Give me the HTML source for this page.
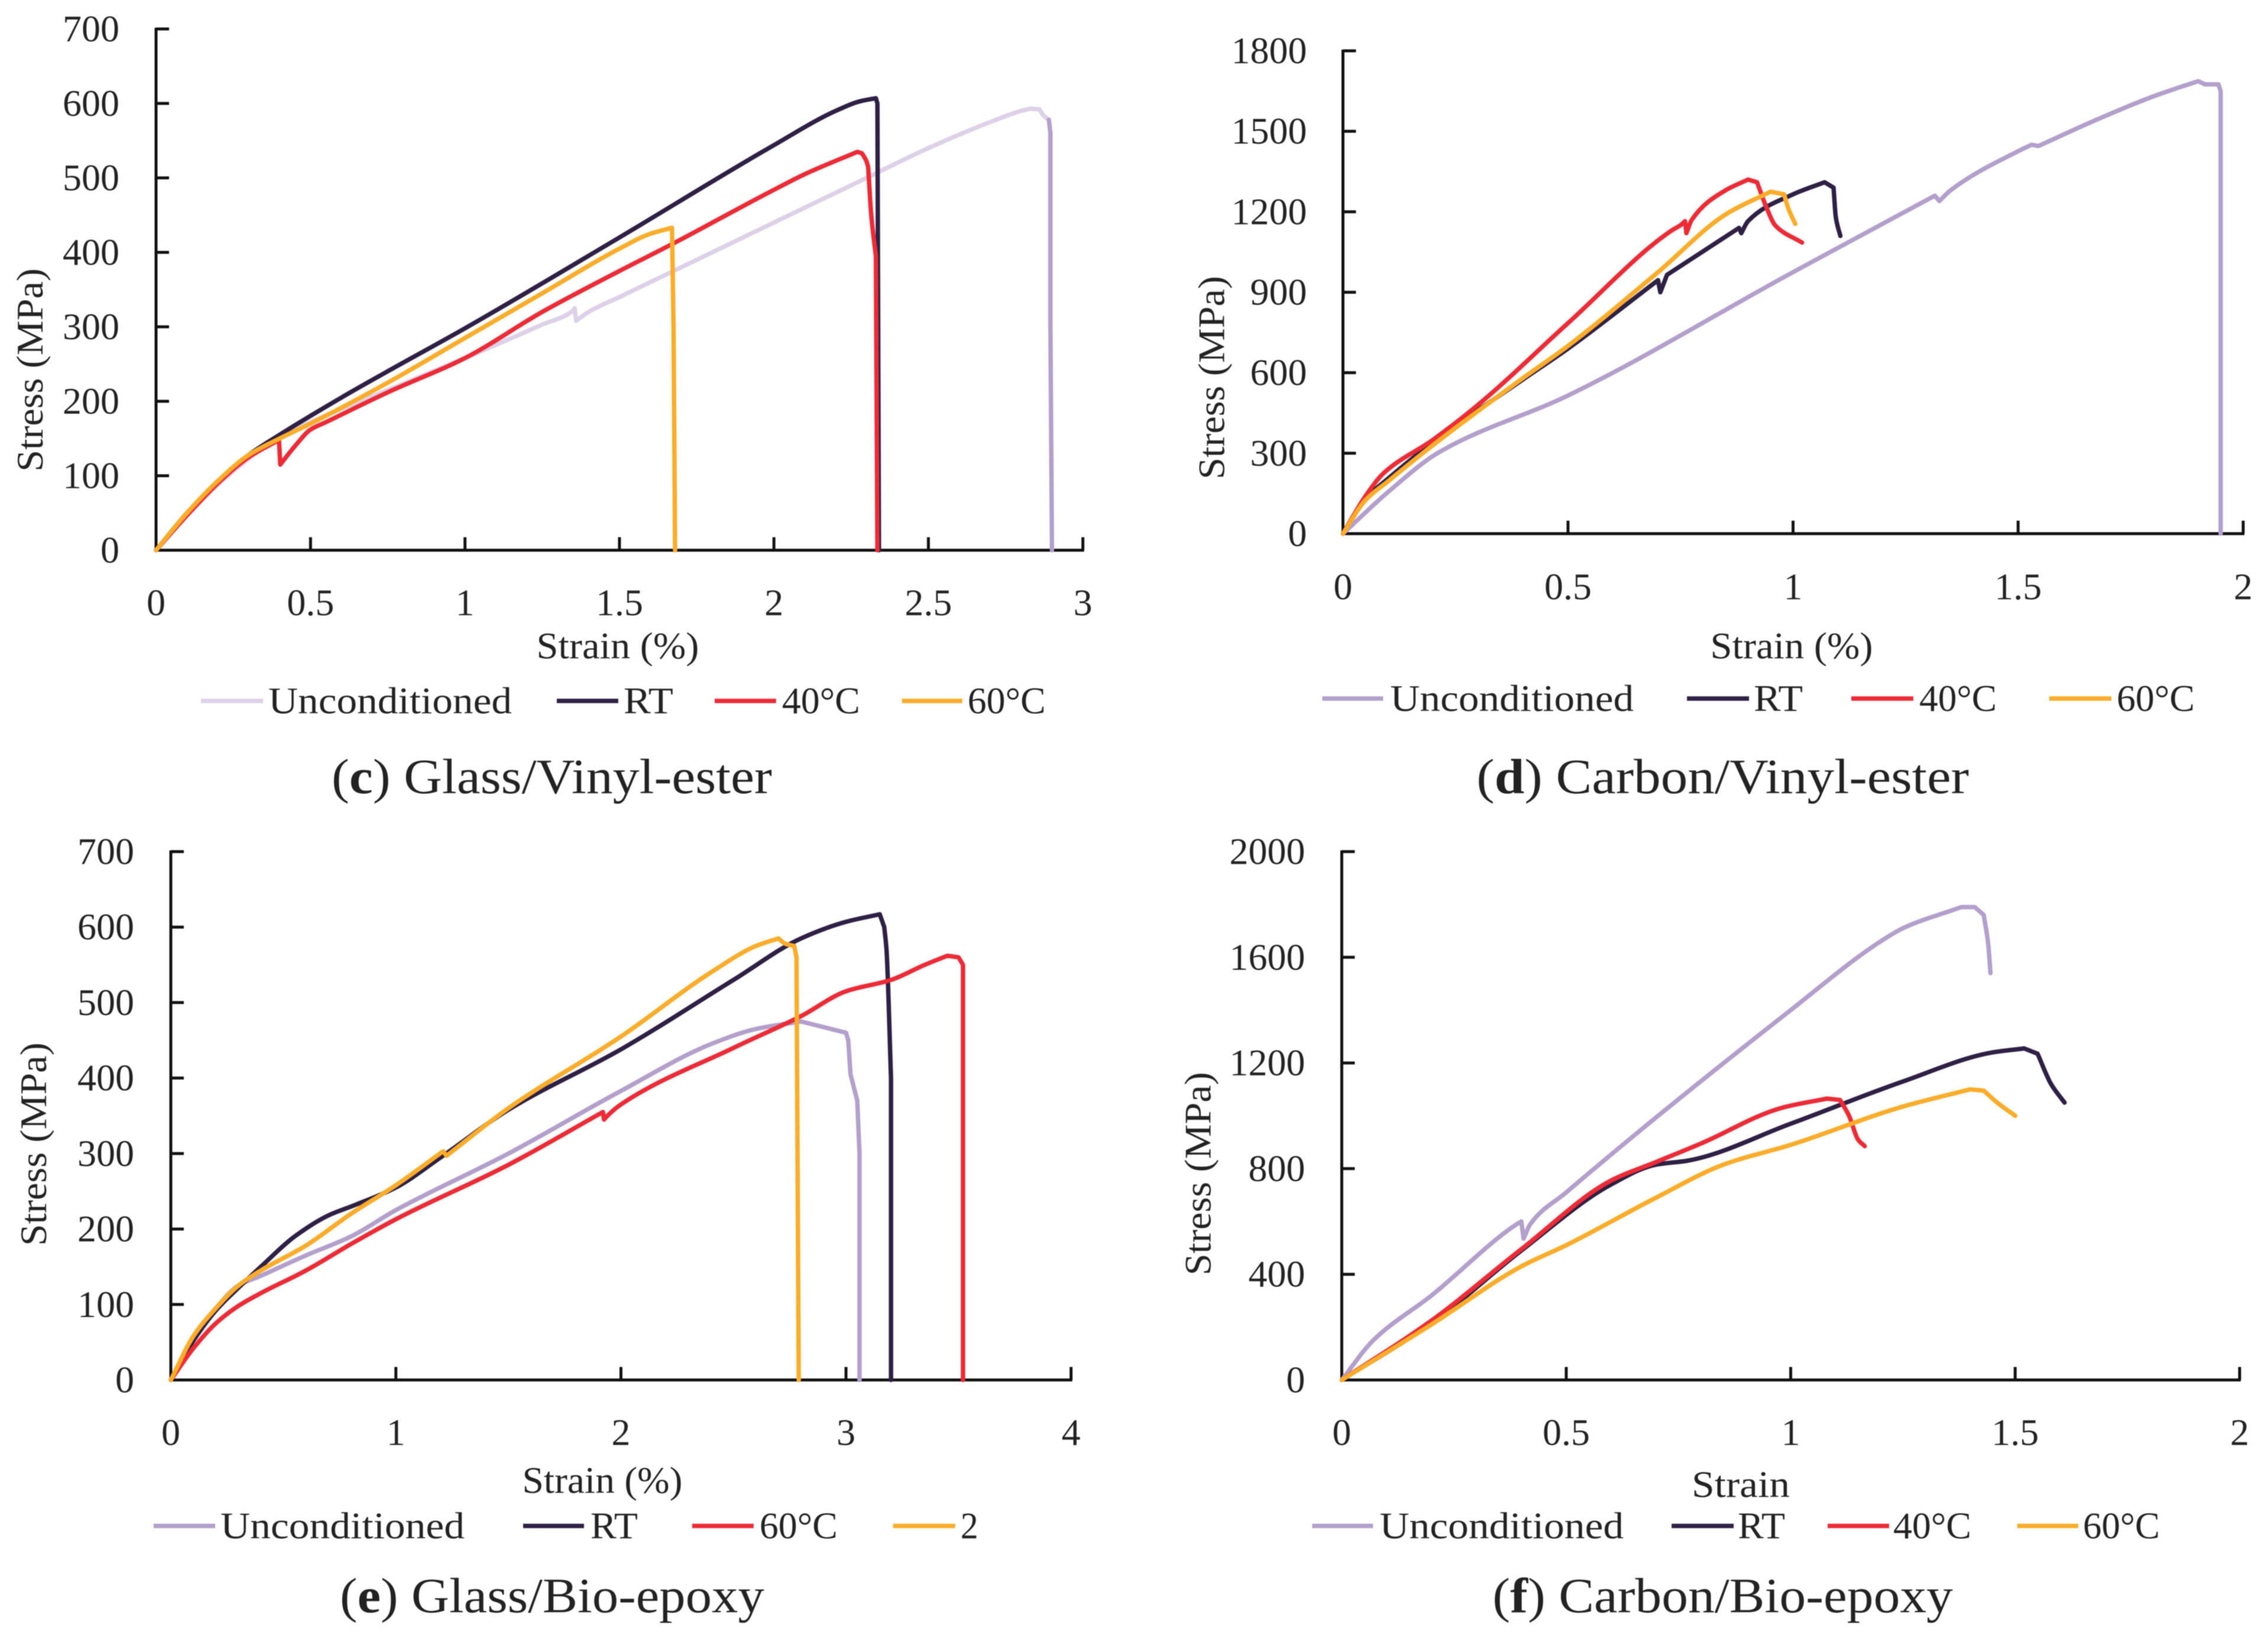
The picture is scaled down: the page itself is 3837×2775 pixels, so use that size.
<!DOCTYPE html>
<html lang="en">
<head>
<meta charset="utf-8">
<title>Stress-strain curves</title>
<style>
html,body{margin:0;padding:0;background:#fff;}
body{width:3837px;height:2775px;overflow:hidden;}
svg{display:block;filter:blur(0.9px);}
text{font-family:"Liberation Serif","DejaVu Serif",serif;fill:#222;}
</style>
</head>
<body>
<svg id="figure" xmlns="http://www.w3.org/2000/svg" width="3837" height="2775" viewBox="0 0 3837 2775">
<rect width="3837" height="2775" fill="#fff"/>
</svg>
<script>
// ---------- Panel c: Glass/Vinyl-ester ----------
const cStrainTicks = [0, 0.5, 1, 1.5, 2, 2.5, 3];
const cStressTicks = [0, 100, 200, 300, 400, 500, 600, 700];
const cLegendLabels = ["Unconditioned", "RT", "40°C", "60°C"];
const cUncondStrain = [0, 0.1, 0.2, 0.3, 0.38, 0.5, 0.75, 1, 1.25, 1.35, 1.355, 1.36, 1.4, 1.5, 1.75, 2, 2.3, 2.5, 2.7, 2.8, 2.83, 2.86, 2.87, 2.89];
const cUncondStress = [0, 46, 88, 123, 146, 172, 215, 258, 303, 322, 325, 308, 320, 340, 390, 440, 500, 540, 575, 590, 593, 592, 585, 578];
const cUncondDropStrain = [2.89, 2.895, 2.895, 2.9];
const cUncondDropStress = [578, 560, 300, 0];
const cRtStrain = [0, 0.1, 0.2, 0.3, 0.4, 0.6, 0.74, 1, 1.5, 2, 2.2, 2.28, 2.33, 2.335, 2.34];
const cRtStress = [0, 50, 92, 128, 155, 205, 238, 298, 420, 544, 590, 603, 607, 600, 0];
const c40Strain = [0, 0.1, 0.2, 0.3, 0.398, 0.402, 0.45, 0.5, 0.55, 0.75, 1, 1.25, 1.5, 1.67, 2, 2.1, 2.27, 2.285, 2.3, 2.305, 2.315, 2.33, 2.335];
const c40Stress = [0, 47, 90, 125, 148, 115, 140, 162, 172, 212, 258, 320, 375, 411, 484, 505, 535, 533, 522, 515, 450, 395, 0];
const c60Strain = [0, 0.1, 0.2, 0.3, 0.4, 0.5, 0.75, 1, 1.25, 1.5, 1.6, 1.67, 1.675, 1.68];
const c60Stress = [0, 50, 93, 128, 150, 170, 225, 285, 345, 405, 425, 433, 300, 0];

// ---------- Panel d: Carbon/Vinyl-ester ----------
const dStrainTicks = [0, 0.5, 1, 1.5, 2];
const dStressTicks = [0, 300, 600, 900, 1200, 1500, 1800];
const dLegendLabels = ["Unconditioned", "RT", "40°C", "60°C"];
const dUncondStrain = [0, 0.1, 0.212, 0.5, 1, 1.315, 1.325, 1.35, 1.5, 1.53, 1.545, 1.67, 1.8, 1.9, 1.915, 1.945, 1.95, 1.95];
const dUncondStress = [0, 155, 302, 515, 975, 1260, 1240, 1280, 1426, 1450, 1445, 1540, 1630, 1687, 1675, 1675, 1650, 0];
const dRtStrain = [0, 0.05, 0.1, 0.2, 0.4, 0.5, 0.7, 0.705, 0.72, 0.88, 0.885, 0.9, 1, 1.07, 1.09, 1.095, 1.105];
const dRtStress = [0, 130, 205, 340, 575, 690, 945, 900, 965, 1140, 1120, 1165, 1265, 1310, 1290, 1180, 1110];
const d40Strain = [0, 0.05, 0.09, 0.2, 0.3, 0.5, 0.73, 0.75, 0.76, 0.763, 0.775, 0.85, 0.9, 0.92, 0.94, 0.96, 1.02];
const d40Stress = [0, 140, 225, 350, 480, 785, 1130, 1150, 1165, 1120, 1170, 1280, 1320, 1310, 1220, 1150, 1085];
const d60Strain = [0, 0.05, 0.1, 0.2, 0.4, 0.5, 0.7, 0.85, 0.95, 0.98, 0.99, 1.005];
const d60Stress = [0, 125, 195, 330, 580, 700, 975, 1190, 1275, 1265, 1210, 1155];

// ---------- Panel e: Glass/Bio-epoxy ----------
const eStrainTicks = [0, 1, 2, 3, 4];
const eStressTicks = [0, 100, 200, 300, 400, 500, 600, 700];
const eLegendLabels = ["Unconditioned", "RT", "60°C", "2"];
const eUncondStrain = [0, 0.1, 0.2, 0.3, 0.4, 0.6, 0.8, 1, 1.5, 2, 2.4, 2.6, 2.8, 3, 3.01, 3.02, 3.05, 3.06, 3.06];
const eUncondStress = [0, 55, 95, 125, 138, 165, 190, 225, 300, 383, 445, 465, 475, 460, 450, 405, 370, 300, 0];
const eRtStrain = [0, 0.1, 0.2, 0.3, 0.4, 0.55, 0.7, 0.82, 1, 1.2, 1.5, 2, 2.5, 2.8, 3, 3.15, 3.17, 3.18, 3.2, 3.2];
const eRtStress = [0, 52, 92, 122, 150, 190, 218, 232, 255, 295, 358, 438, 530, 585, 607, 617, 600, 570, 400, 0];
const e60Strain = [0, 0.1, 0.2, 0.3, 0.4, 0.6, 0.8, 1, 1.5, 1.92, 1.925, 1.94, 2, 2.5, 2.8, 3, 3.2, 3.35, 3.45, 3.5, 3.52, 3.52];
const e60Stress = [0, 42, 75, 98, 115, 145, 180, 213, 285, 355, 345, 350, 365, 440, 482, 515, 530, 550, 562, 560, 550, 0];
const e2Strain = [0, 0.1, 0.2, 0.3, 0.4, 0.6, 0.8, 1, 1.21, 1.225, 1.5, 2, 2.4, 2.6, 2.7, 2.73, 2.77, 2.78, 2.79];
const e2Stress = [0, 58, 95, 125, 145, 178, 220, 258, 303, 297, 360, 455, 540, 575, 585, 578, 575, 560, 0];

// ---------- Panel f: Carbon/Bio-epoxy ----------
const fStrainTicks = [0, 0.5, 1, 1.5, 2];
const fStressTicks = [0, 400, 800, 1200, 1600, 2000];
const fLegendLabels = ["Unconditioned", "RT", "40°C", "60°C"];
const fUncondStrain = [0, 0.07, 0.2, 0.39, 0.4, 0.405, 0.42, 0.5, 1, 1.2, 1.25, 1.38, 1.41, 1.43, 1.44, 1.445];
const fUncondStress = [0, 150, 320, 590, 600, 535, 590, 710, 1400, 1660, 1710, 1790, 1790, 1760, 1650, 1540];
const fRtStrain = [0, 0.2, 0.4, 0.6, 0.7, 0.77, 1, 1.25, 1.45, 1.52, 1.55, 1.58, 1.61];
const fRtStress = [0, 215, 490, 740, 815, 830, 970, 1130, 1240, 1255, 1235, 1120, 1050];
const f40Strain = [0, 0.2, 0.4, 0.6, 0.7, 0.8, 0.98, 1.08, 1.11, 1.13, 1.15, 1.165];
const f40Stress = [0, 225, 495, 755, 825, 895, 1030, 1065, 1060, 1000, 910, 885];
const f60Strain = [0, 0.2, 0.4, 0.5, 0.7, 0.85, 1, 1.25, 1.4, 1.43, 1.46, 1.5];
const f60Stress = [0, 210, 430, 510, 690, 815, 890, 1035, 1100, 1095, 1050, 1000];

const COLORS = {light: "#ddd1e7", purple: "#b39fcc", dark: "#2e1f45", red: "#ed2b36", orange: "#fbac29"};
const svg = document.getElementById("figure");
const NS = "http://www.w3.org/2000/svg";

function makeEl(tag, attrs, parent) {
  const el = document.createElementNS(NS, tag);
  for (const k in attrs) el.setAttribute(k, attrs[k]);
  parent.appendChild(el);
  return el;
}

// Cubic path through pixel points: smooth at gentle bends, sharp at notches and drops.
function smoothPath(px, py) {
  const n = px.length;
  const h = [], s = [];
  for (let i = 0; i < n - 1; i++) {
    h.push(px[i + 1] - px[i]);
    s.push(h[i] > 0.01 ? (py[i + 1] - py[i]) / h[i] : null);
  }
  const mIn = new Array(n), mOut = new Array(n);
  for (let i = 0; i < n; i++) {
    const a = i > 0 ? s[i - 1] : s[i];
    const b = i < n - 1 ? s[i] : s[i - 1];
    if (a === null || b === null) { mIn[i] = a || 0; mOut[i] = b || 0; continue; }
    const ratio = Math.abs(a) > Math.abs(b) ? Math.abs(a / (b || 1e-6)) : Math.abs(b / (a || 1e-6));
    if (a * b <= 0 || ratio > 3.5 || i === 0 || i === n - 1) { mIn[i] = a; mOut[i] = b; continue; }
    const w1 = 2 * h[i] + h[i - 1], w2 = h[i] + 2 * h[i - 1];
    mIn[i] = mOut[i] = (w1 + w2) / (w1 / a + w2 / b);
  }
  let d = "M" + px[0].toFixed(1) + "," + py[0].toFixed(1);
  for (let i = 0; i < n - 1; i++) {
    if (h[i] < 3) {
      d += "L" + px[i + 1].toFixed(1) + "," + py[i + 1].toFixed(1);
    } else {
      d += "C" + (px[i] + h[i] / 3).toFixed(1) + "," + (py[i] + mOut[i] * h[i] / 3).toFixed(1) + " " +
        (px[i + 1] - h[i] / 3).toFixed(1) + "," + (py[i + 1] - mIn[i + 1] * h[i] / 3).toFixed(1) + " " +
        px[i + 1].toFixed(1) + "," + py[i + 1].toFixed(1);
    }
  }
  return d;
}

function drawPanel(p) {
  const g = makeEl("g", {}, svg);
  
  
  const xMax = p.xTicks[p.xTicks.length - 1];
  const yMax = p.yTicks[p.yTicks.length - 1];
  const sx = v => p.x0 + (v / xMax) * (p.x1 - p.x0);
  const sy = v => p.y0 - (v / yMax) * (p.y0 - p.y1);

  // axes
  const yAxis = makeEl("line", {x1: p.x0, x2: p.x0, y1: p.y1 - 2, y2: p.y0 + 2, stroke: "#111", "stroke-width": 5}, g);
  
  
  const xAxis = makeEl("line", {x1: p.x0 - 2, x2: p.x1 + 2, y1: p.y0, y2: p.y0, stroke: "#111", "stroke-width": 5}, g);
  
  

  // ticks & labels
  p.xTicks.forEach(t => {
    if (t !== 0) {
      const tick = makeEl("line", {x1: sx(t), x2: sx(t), y1: p.y0, y2: p.y0 - 22, stroke: "#111", "stroke-width": 5}, g);
      
      
    }
    const lab = makeEl("text", {x: sx(t), y: p.xLabelY, "font-size": 64, "text-anchor": "middle"}, g);
    
    
    lab.textContent = String(t);
  });
  p.yTicks.forEach(t => {
    if (t !== 0) {
      const tick = makeEl("line", {x1: p.x0, x2: p.x0 + 22, y1: sy(t), y2: sy(t), stroke: "#111", "stroke-width": 5}, g);
      
      
    }
    const lab = makeEl("text", {x: p.yLabelX, y: sy(t) + 21, "font-size": 64, "text-anchor": "end"}, g);
    
    
    lab.textContent = String(t);
  });

  // axis titles
  const xt = makeEl("text", {x: p.xTitle[0], y: p.xTitle[1] + 20, "font-size": 64, "text-anchor": "middle", textLength: p.xTitle[2], lengthAdjust: "spacingAndGlyphs"}, g);
  
  
  xt.textContent = p.xTitleText;
  const yt = makeEl("text", {transform: "translate(" + (p.yTitle[0] + 20) + "," + p.yTitle[1] + ") rotate(-90)", "font-size": 64, "text-anchor": "middle", textLength: 344, lengthAdjust: "spacingAndGlyphs"}, g);
  
  
  yt.textContent = "Stress (MPa)";

  // series
  p.series.forEach(s => {
    const line = makeEl("path", {d: smoothPath(s.x.map(sx), s.y.map(sy)), fill: "none", stroke: s.color, "stroke-width": 7.5, "stroke-linejoin": "round", "stroke-linecap": "round"}, g);
    
    
  });

  // legend
  p.legend.forEach((e, i) => {
    const lg = makeEl("g", {}, g);
    
    
    makeEl("line", {x1: e.lx0, x2: e.lx1, y1: p.legendY, y2: p.legendY, stroke: e.color, "stroke-width": 7.5}, lg);
    const t = makeEl("text", {x: e.tx0, y: p.legendY + 21, "font-size": 64, textLength: e.tx1 - e.tx0, lengthAdjust: "spacingAndGlyphs"}, lg);
    t.textContent = p.legendLabels[i];
  });

  // caption
  const cap = makeEl("text", {x: p.caption[0], y: p.captionY, "font-size": 84, textLength: p.caption[1] - p.caption[0], lengthAdjust: "spacingAndGlyphs"}, g);
  
  
  cap.appendChild(document.createTextNode("("));
  const b = makeEl("tspan", {"font-weight": "bold"}, cap);
  b.textContent = p.id;
  cap.appendChild(document.createTextNode(") " + p.captionText));
}

drawPanel({
  id: "c", x0: 264, x1: 1832, y0: 931, y1: 49, xTicks: cStrainTicks, yTicks: cStressTicks,
  xLabelY: 1041, yLabelX: 202, xTitle: [1045, 1094, 275], xTitleText: "Strain (%)", yTitle: [52, 626],
  legendY: 1186, legendLabels: cLegendLabels,
  legend: [
    {lx0: 340, lx1: 445, tx0: 454, tx1: 866, color: COLORS.light},
    {lx0: 942, lx1: 1046, tx0: 1055, tx1: 1139, color: COLORS.dark},
    {lx0: 1209, lx1: 1313, tx0: 1323, tx1: 1455, color: COLORS.red},
    {lx0: 1526, lx1: 1628, tx0: 1637, tx1: 1769, color: COLORS.orange}
  ],
  caption: [561, 1306], captionY: 1342, captionText: "Glass/Vinyl-ester",
  series: [
    {name: "unconditioned", x: cUncondStrain, y: cUncondStress, color: COLORS.light},
    {name: "unconditioned-drop", x: cUncondDropStrain, y: cUncondDropStress, color: COLORS.purple},
    {name: "rt", x: cRtStrain, y: cRtStress, color: COLORS.dark},
    {name: "40c", x: c40Strain, y: c40Stress, color: COLORS.red},
    {name: "60c", x: c60Strain, y: c60Stress, color: COLORS.orange}
  ]
});

drawPanel({
  id: "d", x0: 2272, x1: 3795, y0: 903, y1: 86, xTicks: dStrainTicks, yTicks: dStressTicks,
  xLabelY: 1014, yLabelX: 2211, xTitle: [3031, 1094, 275], xTitleText: "Strain (%)", yTitle: [2051, 639],
  legendY: 1182, legendLabels: dLegendLabels,
  legend: [
    {lx0: 2237, lx1: 2340, tx0: 2352, tx1: 2764, color: COLORS.purple},
    {lx0: 2854, lx1: 2959, tx0: 2967, tx1: 3050, color: COLORS.dark},
    {lx0: 3132, lx1: 3237, tx0: 3247, tx1: 3378, color: COLORS.red},
    {lx0: 3467, lx1: 3572, tx0: 3581, tx1: 3713, color: COLORS.orange}
  ],
  caption: [2498, 3331], captionY: 1342, captionText: "Carbon/Vinyl-ester",
  series: [
    {name: "unconditioned", x: dUncondStrain, y: dUncondStress, color: COLORS.purple},
    {name: "rt", x: dRtStrain, y: dRtStress, color: COLORS.dark},
    {name: "40c", x: d40Strain, y: d40Stress, color: COLORS.red},
    {name: "60c", x: d60Strain, y: d60Stress, color: COLORS.orange}
  ]
});

drawPanel({
  id: "e", x0: 289, x1: 1812, y0: 2335, y1: 1441, xTicks: eStrainTicks, yTicks: eStressTicks,
  xLabelY: 2445, yLabelX: 227, xTitle: [1019, 2506, 271], xTitleText: "Strain (%)", yTitle: [58, 1936],
  legendY: 2582, legendLabels: eLegendLabels,
  legend: [
    {lx0: 260, lx1: 364, tx0: 373, tx1: 786, color: COLORS.purple},
    {lx0: 885, lx1: 988, tx0: 999, tx1: 1079, color: COLORS.dark},
    {lx0: 1171, lx1: 1275, tx0: 1285, tx1: 1417, color: COLORS.red},
    {lx0: 1511, lx1: 1616, tx0: 1625, tx1: 1655, color: COLORS.orange}
  ],
  caption: [575, 1293], captionY: 2728, captionText: "Glass/Bio-epoxy",
  series: [
    {name: "unconditioned", x: eUncondStrain, y: eUncondStress, color: COLORS.purple},
    {name: "rt", x: eRtStrain, y: eRtStress, color: COLORS.dark},
    {name: "60c", x: e60Strain, y: e60Stress, color: COLORS.red},
    {name: "2", x: e2Strain, y: e2Stress, color: COLORS.orange}
  ]
});

drawPanel({
  id: "f", x0: 2270, x1: 3789, y0: 2335, y1: 1441, xTicks: fStrainTicks, yTicks: fStressTicks,
  xLabelY: 2445, yLabelX: 2208, xTitle: [2945, 2513, 166], xTitleText: "Strain", yTitle: [2028, 1986],
  legend: [
    {lx0: 2220, lx1: 2323, tx0: 2334, tx1: 2747, color: COLORS.purple},
    {lx0: 2828, lx1: 2933, tx0: 2940, tx1: 3020, color: COLORS.dark},
    {lx0: 3092, lx1: 3196, tx0: 3203, tx1: 3335, color: COLORS.red},
    {lx0: 3413, lx1: 3516, tx0: 3524, tx1: 3654, color: COLORS.orange}
  ],
  legendY: 2582, legendLabels: fLegendLabels,
  caption: [2525, 3304], captionY: 2728, captionText: "Carbon/Bio-epoxy",
  series: [
    {name: "unconditioned", x: fUncondStrain, y: fUncondStress, color: COLORS.purple},
    {name: "rt", x: fRtStrain, y: fRtStress, color: COLORS.dark},
    {name: "40c", x: f40Strain, y: f40Stress, color: COLORS.red},
    {name: "60c", x: f60Strain, y: f60Stress, color: COLORS.orange}
  ]
});
</script>
</body>
</html>
